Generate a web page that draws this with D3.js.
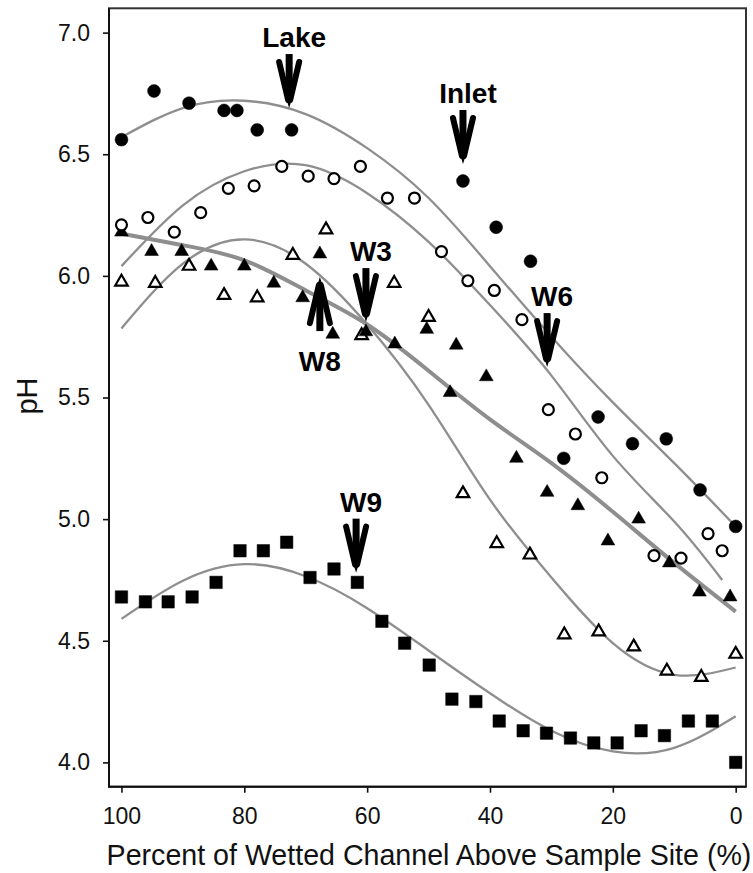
<!DOCTYPE html>
<html>
<head>
<meta charset="utf-8">
<script src="https://cdn.jsdelivr.net/npm/d3@7"></script>
<style>
  body { margin: 0; background: #fff; }
  svg { display: block; font-family: "Liberation Sans", Arial, sans-serif; }
</style>
</head>
<body>
<div id="chart"></div>
<script>
// tick labels
const xTicks = [100, 80, 60, 40, 20, 0];
const yTicks = [4.0, 4.5, 5.0, 5.5, 6.0, 6.5, 7.0];

// filled circles
const siteA = [100, 94.7, 89.0, 83.3, 81.2, 77.9, 72.3, 44.4, 39.0, 33.4, 28.0, 22.4, 16.8, 11.3, 5.8, 0];
const phA = [6.56, 6.76, 6.71, 6.68, 6.68, 6.60, 6.60, 6.39, 6.20, 6.06, 5.25, 5.42, 5.31, 5.33, 5.12, 4.97];

// open circles
const siteB = [100, 95.7, 91.4, 87.1, 82.6, 78.4, 73.9, 69.6, 65.4, 61.1, 56.7, 52.3, 47.9, 43.6, 39.3, 34.8, 30.5, 26.1, 21.8, 13.3, 8.9, 4.5, 2.2];
const phB = [6.21, 6.24, 6.18, 6.26, 6.36, 6.37, 6.45, 6.41, 6.40, 6.45, 6.32, 6.32, 6.10, 5.98, 5.94, 5.82, 5.45, 5.35, 5.17, 4.85, 4.84, 4.94, 4.87];

// filled triangles
const siteC = [100, 95.1, 90.2, 85.4, 80.0, 75.2, 70.5, 67.7, 65.6, 60.2, 55.5, 50.3, 46.5, 45.5, 40.6, 35.7, 30.7, 25.7, 20.8, 15.8, 10.8, 5.9, 0.9];
const phC = [6.18, 6.10, 6.10, 6.04, 6.04, 5.97, 5.91, 6.09, 5.76, 5.77, 5.72, 5.78, 5.52, 5.715, 5.585, 5.25, 5.11, 5.055, 4.91, 5.00, 4.82, 4.70, 4.68];

// open triangles
const siteD = [100, 94.5, 89.0, 83.3, 77.9, 72.1, 66.7, 60.9, 55.6, 50.0, 44.4, 38.9, 33.5, 27.9, 22.3, 16.6, 11.2, 5.6, 0];
const phD = [5.975, 5.97, 6.04, 5.92, 5.91, 6.085, 6.19, 5.755, 5.97, 5.83, 5.105, 4.90, 4.853, 4.525, 4.537, 4.475, 4.376, 4.35, 4.445];

// squares
const siteE = [100, 96.1, 92.4, 88.5, 84.6, 80.7, 76.9, 73.1, 69.3, 65.4, 61.6, 57.6, 53.9, 49.9, 46.2, 42.3, 38.5, 34.6, 30.8, 26.9, 23.1, 19.3, 15.4, 11.6, 7.7, 3.8, 0];
const phE = [4.68, 4.66, 4.66, 4.68, 4.74, 4.87, 4.87, 4.905, 4.76, 4.795, 4.74, 4.58, 4.49, 4.40, 4.26, 4.25, 4.17, 4.13, 4.12, 4.10, 4.08, 4.08, 4.13, 4.11, 4.17, 4.17, 4.00];

// fitted curves
const fitSites = [100, 90, 80, 70, 60, 50, 40, 30, 20, 10, 0];
const fitSitesB = [100, 90, 80, 70, 60, 50, 40, 30, 20, 10, 2.2];
const fitA = [6.57, 6.69, 6.72, 6.665, 6.525, 6.32, 6.04, 5.75, 5.48, 5.23, 4.97];
const fitB = [6.04, 6.29, 6.43, 6.455, 6.34, 6.14, 5.88, 5.59, 5.26, 4.99, 4.75];
const fitC = [6.174, 6.126, 6.064, 5.94, 5.80, 5.61, 5.41, 5.23, 5.03, 4.82, 4.62];
const fitD = [5.784, 6.05, 6.15, 6.05, 5.80, 5.47, 5.08, 4.76, 4.49, 4.36, 4.39];
const fitE = [4.59, 4.747, 4.815, 4.765, 4.634, 4.46, 4.284, 4.13, 4.045, 4.06, 4.19];

// arrows: site and pH at arrow tip
const notes = ["Lake", "Inlet", "W3", "W6", "W8", "W9"];
const noteSite = [72.7, 44.4, 60.2, 30.7, 67.7, 61.8];
const notePh = [6.69, 6.46, 5.81, 5.625, 5.995, 4.78];
const noteDir = ["down", "down", "down", "down", "up", "down"];

const width = 753;
const height = 873;
const box = { left: 109, right: 746, top: 8.3, bottom: 786.7 };

const svg = d3.select('#chart')
    .append('svg')
    .attr('width', width)
    .attr('height', height);

const x = d3.scaleLinear()
    .domain([102.03, -1.68])
    .range([box.left, box.right]);

const y = d3.scaleLinear()
    .domain([3.9, 7.1])
    .range([box.bottom, box.top]);

const zip = (xs, ys) => xs.map((d, i) => [d, ys[i]]);

// frame
svg.append('rect')
    .attr('x', box.left)
    .attr('y', box.top)
    .attr('width', box.right - box.left)
    .attr('height', box.bottom - box.top)
    .attr('fill', 'none')
    .attr('stroke', '#333')
    .attr('stroke-width', 2);

// curves
const line = d3.line()
    .x(d => x(d[0]))
    .y(d => y(d[1]))
    .curve(d3.curveNatural);

const fits = [
    { pts: zip(fitSites, fitA), w: 2.3 },
    { pts: zip(fitSitesB, fitB), w: 2.3 },
    { pts: zip(fitSites, fitD), w: 2.3 },
    { pts: zip(fitSites, fitE), w: 2.3 },
    { pts: zip(fitSites, fitC), w: 4 }
];
svg.append('g')
    .selectAll('path')
    .data(fits)
    .join('path')
    .attr('d', d => line(d.pts))
    .attr('fill', 'none')
    .attr('stroke', '#8e8e8e')
    .attr('stroke-width', d => d.w);

// markers
function points(xs, ys, type, size, filled) {
    svg.append('g')
        .selectAll('path')
        .data(zip(xs, ys))
        .join('path')
        .attr('transform', d => `translate(${x(d[0])},${y(d[1])})`)
        .attr('d', d3.symbol().type(type).size(size))
        .attr('fill', filled ? '#000' : '#fff')
        .attr('stroke', '#000')
        .attr('stroke-width', filled ? 0.5 : 2.2);
}
points(siteE, phE, d3.symbolSquare, 155, true);
points(siteD, phD, d3.symbolTriangle, 68, false);
points(siteC, phC, d3.symbolTriangle, 82, true);
points(siteB, phB, d3.symbolCircle, 95, false);
points(siteA, phA, d3.symbolCircle, 130, true);

// axes
function yAxis(g) {
    g.attr('transform', `translate(${box.left},0)`)
        .call(d3.axisLeft(y).tickValues(yTicks).tickFormat(d3.format('.1f')).tickSize(6).tickPadding(13))
        .call(g => g.select('.domain').remove());
}
function xAxis(g) {
    g.attr('transform', `translate(0,${box.bottom})`)
        .call(d3.axisBottom(x).tickValues(xTicks).tickFormat(d3.format('d')).tickSize(6).tickPadding(15))
        .call(g => g.select('.domain').remove());
}
svg.append('g').call(yAxis);
svg.append('g').call(xAxis);
svg.selectAll('.tick line').attr('stroke', '#111').attr('stroke-width', 1.6);
svg.selectAll('.tick text').attr('font-size', '23px').attr('font-family', '"Liberation Sans", Arial, sans-serif').attr('fill', '#111');

// axis lines on left and bottom
svg.append('path')
    .attr('d', `M${box.left},${box.top}V${box.bottom}H${box.right}`)
    .attr('fill', 'none')
    .attr('stroke', '#111')
    .attr('stroke-width', 2);

// titles
svg.append('text')
    .attr('x', 429)
    .attr('y', 865)
    .attr('text-anchor', 'middle')
    .attr('font-size', '28.6px')
    .attr('fill', '#111')
    .text('Percent of Wetted Channel Above Sample Site (%)');

svg.append('text')
    .attr('transform', 'translate(37,396) rotate(-90)')
    .attr('text-anchor', 'middle')
    .attr('font-size', '29px')
    .attr('fill', '#111')
    .text('pH');

// arrows with labels
const len = 54;
const ann = svg.append('g');
notes.forEach((label, i) => {
    const ax = x(noteSite[i]);
    const ay = y(notePh[i]);
    const s = noteDir[i] === 'down' ? 1 : -1;
    const a = ann.append('g')
        .attr('transform', `translate(${ax},${ay}) scale(1,${s})`);
    a.append('path')
        .attr('d', `M0,${-len}V-8`)
        .attr('stroke', '#000')
        .attr('stroke-width', 7);
    a.append('path')
        .attr('d', `M-10,${-len + 8}L-1,-8M10,${-len + 8}L1,-8`)
        .attr('stroke', '#000')
        .attr('stroke-width', 6)
        .attr('stroke-linecap', 'round')
        .attr('fill', 'none');
    a.append('path')
        .attr('d', 'M-5,-16L5,-16L0,0Z')
        .attr('fill', '#000');
    ann.append('text')
        .attr('x', s > 0 ? ax + 5 : ax)
        .attr('y', s > 0 ? ay - len - 7 : ay + len + 40)
        .attr('text-anchor', 'middle')
        .attr('font-size', '28px')
        .attr('font-weight', 'bold')
        .attr('fill', '#000')
        .text(label);
});
</script>
</body>
</html>
